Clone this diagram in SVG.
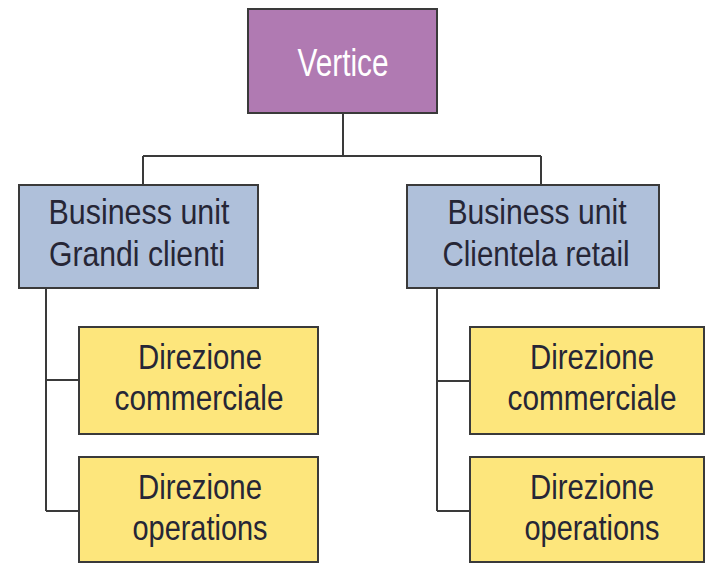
<svg xmlns="http://www.w3.org/2000/svg" width="706" height="563" viewBox="0 0 706 563">
  <style>
    .box { stroke: #3a3a3a; stroke-width: 2; }
    .top { fill: #b07ab2; }
    .unit { fill: #afc0da; }
    .dept { fill: #fde67c; }
    .lbl { font-family: "Liberation Sans", Arial, sans-serif; font-size: 35px; text-anchor: middle; }
    .big { font-size: 39px; }
    .light { fill: #ffffff; }
    .dark { fill: #262636; }
    .link { fill: none; stroke: #3a3a3a; stroke-width: 2; }
  </style>
  <rect width="706" height="563" fill="#ffffff"/>

  <g id="connectors">
    <path class="link" d="M343 113 V156 M143 156 H541 M143 156 V185 M541 156 V185"/>
    <path class="link" d="M46 288 V511 M46 380 H79 M46 511 H79"/>
    <path class="link" d="M437 288 V511 M437 381 H470 M437 511 H470"/>
  </g>

  <g id="vertice">
    <rect class="box top" x="248" y="9" width="189" height="104"/>
    <text class="lbl big light" x="343" y="76" textLength="91" lengthAdjust="spacingAndGlyphs">Vertice</text>
  </g>

  <g id="bu-grandi-clienti">
    <rect class="box unit" x="19" y="185" width="239" height="103"/>
    <text class="lbl dark" x="139" y="224" textLength="181" lengthAdjust="spacingAndGlyphs">Business unit</text>
    <text class="lbl dark" x="137" y="266" textLength="176" lengthAdjust="spacingAndGlyphs">Grandi clienti</text>
  </g>

  <g id="bu-clientela-retail">
    <rect class="box unit" x="407" y="185" width="252" height="103"/>
    <text class="lbl dark" x="537" y="224" textLength="179" lengthAdjust="spacingAndGlyphs">Business unit</text>
    <text class="lbl dark" x="536" y="266" textLength="187" lengthAdjust="spacingAndGlyphs">Clientela retail</text>
  </g>

  <g id="gc-commerciale">
    <rect class="box dept" x="79" y="327" width="239" height="107"/>
    <text class="lbl dark" x="200" y="369" textLength="124" lengthAdjust="spacingAndGlyphs">Direzione</text>
    <text class="lbl dark" x="199" y="410" textLength="169" lengthAdjust="spacingAndGlyphs">commerciale</text>
  </g>

  <g id="gc-operations">
    <rect class="box dept" x="79" y="457" width="239" height="105"/>
    <text class="lbl dark" x="200" y="499" textLength="124" lengthAdjust="spacingAndGlyphs">Direzione</text>
    <text class="lbl dark" x="200" y="540" textLength="135" lengthAdjust="spacingAndGlyphs">operations</text>
  </g>

  <g id="cr-commerciale">
    <rect class="box dept" x="470" y="327" width="234" height="107"/>
    <text class="lbl dark" x="592" y="369" textLength="124" lengthAdjust="spacingAndGlyphs">Direzione</text>
    <text class="lbl dark" x="592" y="410" textLength="169" lengthAdjust="spacingAndGlyphs">commerciale</text>
  </g>

  <g id="cr-operations">
    <rect class="box dept" x="470" y="457" width="234" height="105"/>
    <text class="lbl dark" x="592" y="499" textLength="124" lengthAdjust="spacingAndGlyphs">Direzione</text>
    <text class="lbl dark" x="592" y="540" textLength="135" lengthAdjust="spacingAndGlyphs">operations</text>
  </g>
</svg>
